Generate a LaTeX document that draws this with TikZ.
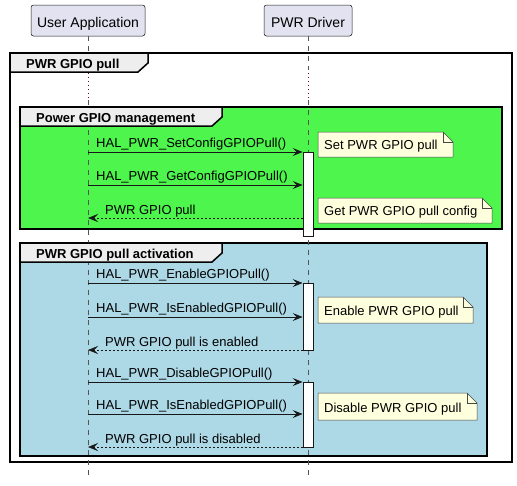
\documentclass[tikz,border=0pt]{standalone}
\usepackage{fontspec}
\setmainfont{Liberation Sans}
\usetikzlibrary{arrows.meta}
\definecolor{partfill}{HTML}{E2E2F0}
\definecolor{linecol}{HTML}{181818}
\definecolor{notefill}{HTML}{FEFFDD}
\definecolor{tabfill}{HTML}{EEEEEE}
\definecolor{grpgreen}{RGB}{77,245,77}
\definecolor{grpblue}{HTML}{ADD8E6}
\definecolor{delaycol}{HTML}{800000}
\definecolor{lifecol}{HTML}{555555}
\newcommand{\mynote}[6]{%
  \draw[notebox] (#1,#2) -- ({#3-10},#2) -- (#3,{#2+10}) -- (#3,#4) -- (#1,#4) -- cycle;
  \draw[notefold] ({#3-10},#2) -- ({#3-10},{#2+10}) -- (#3,{#2+10});
  \node[notetext] (#5) at ({#1+6},{#4-8}) {#6};}
\newcommand{\mytab}[6]{%
  \draw[tabbox] (#1,#2) -- (#3,#2) -- (#3,{#2+#4-9}) -- ({#3-10},{#2+#4}) -- (#1,{#2+#4}) -- cycle;
  \node[tabtext] (#5) at ({#1+16},{#2+#4-3.5}) {#6};}
\begin{document}
\begin{tikzpicture}[x=1pt,y=-1pt,
  participant/.style={draw=linecol, line width=0.5pt, fill=partfill, rounded corners=2.5pt,
    inner sep=0pt, minimum height=31pt, font=\fontsize{14}{16}\selectfont},
  msgtext/.style={anchor=base west, inner sep=0pt, font=\fontsize{13}{15}\selectfont},
  msg/.style={draw=linecol, line width=0.8pt, -{Stealth[length=10pt,width=8pt,inset=4pt]}},
  ret/.style={msg, line width=0.6pt, dash pattern=on 2pt off 2pt},
  act/.style={draw=linecol, fill=white, line width=0.8pt, minimum width=10pt, inner sep=0pt, anchor=north},
  lifeline/.style={draw=lifecol, line width=0.5pt, dash pattern=on 5pt off 5pt},
  delay/.style={draw=delaycol, line width=0.8pt, dash pattern=on 1pt off 3pt},
  frame/.style={draw=black, line width=1.5pt},
  tabbox/.style={draw=black, line width=1.5pt, fill=tabfill, line join=miter},
  tabtext/.style={anchor=base west, inner sep=0pt, font=\fontsize{13}{15}\selectfont\bfseries},
  notebox/.style={draw=linecol!80, line width=0.5pt, fill=notefill},
  notefold/.style={draw=linecol!80, line width=0.5pt},
  notetext/.style={anchor=base west, inner sep=0pt, font=\fontsize{13}{15}\selectfont}]
\useasboundingbox (0,0) rectangle (517,485);
\fill[white] (0,0) rectangle (517,485);

% participants
\node[participant, minimum width=114pt] (ua) at (88,20.5) {};
\node[anchor=base, inner sep=0pt, font=\fontsize{14}{16}\selectfont] (ualbl) at (88,27) {User Application};
\node[participant, minimum width=88pt] (pd) at (308,20.5) {};
\node[anchor=base, inner sep=0pt, font=\fontsize{14}{16}\selectfont] (pdlbl) at (308,27) {PWR Driver};

% frames (backgrounds)
\draw[frame, fill=white] (10,53) rectangle (512,462);
\draw[frame, fill=grpgreen] (20,107) rectangle (502,229);
\draw[frame, fill=grpblue] (20,243) rectangle (487,456);

% lifelines
\coordinate (ua1) at (88,70);
\coordinate (ua2) at (88,73);
\coordinate (ua3) at (88,100);
\coordinate (uaend) at (88,478);
\coordinate (pd1) at (308,70);
\coordinate (pd2) at (308,73);
\coordinate (pd3) at (308,100);
\coordinate (pdend) at (308,478);
\draw[lifeline] (ua.south) -- (ua1);
\draw[delay] (ua2) -- (ua3);
\draw[lifeline] (ua3) -- (uaend);
\draw[lifeline] (pd.south) -- (pd1);
\draw[delay] (pd2) -- (pd3);
\draw[lifeline] (pd3) -- (pdend);

% tabs
\mytab{10}{53}{148}{19}{t0}{PWR GPIO pull}
\mytab{20}{107}{222}{19}{t1}{Power GPIO management}
\mytab{20}{243}{222}{19}{t2}{PWR GPIO pull activation}

% activations
\node[act, minimum height=84pt] (act1) at (308,152) {};
\node[act, minimum height=67pt] (act2) at (308,283) {};
\node[act, minimum height=65pt] (act3) at (308,382) {};

% messages group 1
\coordinate (m1) at (88,152);
\coordinate (m2) at (88,185);
\coordinate (m3) at (88,218);
\draw[msg] (m1) -- (m1 -| act1.west);
\node[msgtext] (l1) at (96,147) {HAL\_PWR\_SetConfigGPIOPull()};
\draw[msg] (m2) -- (m2 -| act1.west);
\node[msgtext] (l2) at (96,180) {HAL\_PWR\_GetConfigGPIOPull()};
\draw[ret] (m3 -| act1.west) -- (m3);
\node[msgtext] (l3) at (105,214) {PWR GPIO pull};

% messages group 2
\coordinate (m4) at (88,283);
\coordinate (m5) at (88,317);
\coordinate (m6) at (88,350);
\draw[msg] (m4) -- (m4 -| act2.west);
\node[msgtext] (l4) at (96,278) {HAL\_PWR\_EnableGPIOPull()};
\draw[msg] (m5) -- (m5 -| act2.west);
\node[msgtext] (l5) at (96,312) {HAL\_PWR\_IsEnabledGPIOPull()};
\draw[ret] (m6 -| act2.west) -- (m6);
\node[msgtext] (l6) at (105,346) {PWR GPIO pull is enabled};

\coordinate (m7) at (88,382);
\coordinate (m8) at (88,414);
\coordinate (m9) at (88,447);
\draw[msg] (m7) -- (m7 -| act3.west);
\node[msgtext] (l7) at (96,377) {HAL\_PWR\_DisableGPIOPull()};
\draw[msg] (m8) -- (m8 -| act3.west);
\node[msgtext] (l8) at (96,409) {HAL\_PWR\_IsEnabledGPIOPull()};
\draw[ret] (m9 -| act3.west) -- (m9);
\node[msgtext] (l9) at (105,443) {PWR GPIO pull is disabled};

% notes
\mynote{318}{132}{453}{157}{n1}{Set PWR GPIO pull}
\mynote{318}{198}{492}{223}{n2}{Get PWR GPIO pull config}
\mynote{318}{297}{473}{323}{n3}{Enable PWR GPIO pull}
\mynote{318}{393}{477}{420}{n4}{Disable PWR GPIO pull}
\end{tikzpicture}
\end{document}
